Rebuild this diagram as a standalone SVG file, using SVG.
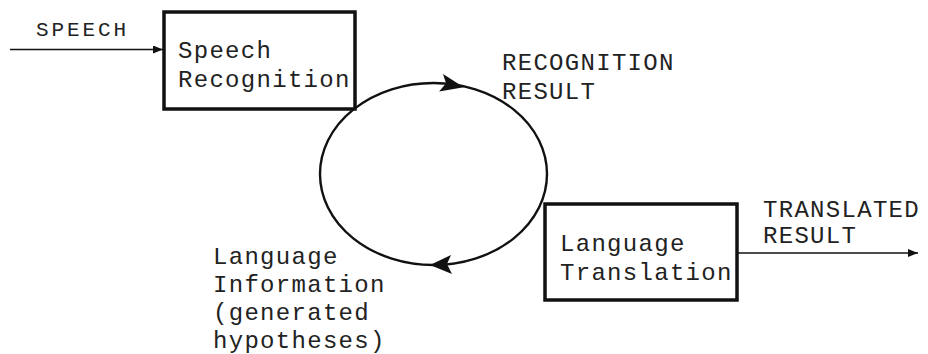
<svg xmlns="http://www.w3.org/2000/svg" width="928" height="354" viewBox="0 0 928 354">
<defs>
<style>
.t{font-family:"Liberation Mono","DejaVu Sans Mono",monospace;font-size:24px;letter-spacing:1.3px;fill:#222}
.s{font-family:"Liberation Mono","DejaVu Sans Mono",monospace;font-size:21px;letter-spacing:2.9px;fill:#222}
.box{fill:none;stroke:#111;stroke-width:3.5}
.ln{fill:none;stroke:#111;stroke-width:1.6}
.loop{fill:none;stroke:#111;stroke-width:2.4}
.ah{fill:#111}
</style>
<marker id="arr" viewBox="0 0 10 8" refX="10" refY="4" markerWidth="10" markerHeight="8" markerUnits="userSpaceOnUse" orient="auto">
<path d="M0,0 L10,4 L0,8 Z" fill="#111"/>
</marker>
</defs>
<rect width="928" height="354" fill="#fff"/>
<g id="connectors">
<line class="ln" x1="10" y1="49.5" x2="163" y2="49.5" marker-end="url(#arr)"/>
<line class="ln" x1="737" y1="253" x2="918" y2="253" marker-end="url(#arr)"/>
<ellipse class="loop" cx="433.5" cy="174" rx="113.5" ry="91"/>
<polygon class="ah" points="464,86 442,75 446,84 440,93" transform="rotate(6 453 84)"/>
<polygon class="ah" points="430,265 451,255 447,264 452,274"/>
</g>
<g id="speech-recognition">
<rect class="box" x="164" y="12" width="191" height="97"/>
<text class="t" x="178" y="58">Speech</text>
<text class="t" x="178" y="87">Recognition</text>
</g>
<g id="language-translation">
<rect class="box" x="545" y="204" width="192" height="96"/>
<text class="t" x="560" y="251">Language</text>
<text class="t" x="560" y="280">Translation</text>
</g>
<g id="labels">
<text class="s" x="36" y="36">SPEECH</text>
<text class="t" x="502" y="70">RECOGNITION</text>
<text class="t" x="502" y="99">RESULT</text>
<text class="t" x="763" y="217">TRANSLATED</text>
<text class="t" x="763" y="243">RESULT</text>
<text class="t" x="213" y="264">Language</text>
<text class="t" x="213" y="292">Information</text>
<text class="t" x="213" y="320">(generated</text>
<text class="t" x="213" y="348">hypotheses)</text>
</g>
</svg>
